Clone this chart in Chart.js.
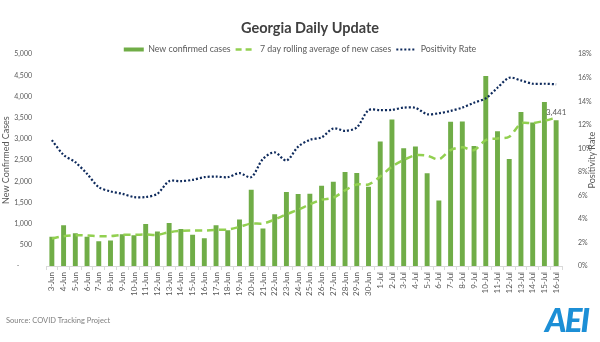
<!DOCTYPE html>
<html>
<head>
  <title>Georgia Daily Update</title>
  <style>
    body {
      margin: 0;
      background-color: #FFF;
      font-family: Lato, sans-serif;
    }

    #wrap {
      position: relative;
      width: 600px;
      height: 342px;
    }

    #source {
      position: absolute;
      left: 6px;
      top: 316px;
      font-size: 7.5px;
      color: #7F7F7F;
    }

    #logo {
      position: absolute;
      left: 545px;
      top: 299px;
      font: italic 900 33px Lato, sans-serif;
      color: #1C8FD6;
      letter-spacing: -2px;
    }
  </style>
</head>
<body>
  <div id="wrap">
    <canvas id="chart" width="600" height="342"></canvas>
    <div id="source">Source: COVID Tracking Project</div>
    <div id="logo">AEI</div>
  </div>

  <script src="https://cdn.jsdelivr.net/npm/chart.js"></script>

  <script>
    // Data
    var days = [
      '3-Jun', '4-Jun', '5-Jun', '6-Jun', '7-Jun', '8-Jun', '9-Jun', '10-Jun', '11-Jun', '12-Jun',
      '13-Jun', '14-Jun', '15-Jun', '16-Jun', '17-Jun', '18-Jun', '19-Jun', '20-Jun', '21-Jun', '22-Jun',
      '23-Jun', '24-Jun', '25-Jun', '26-Jun', '27-Jun', '28-Jun', '29-Jun', '30-Jun',
      '1-Jul', '2-Jul', '3-Jul', '4-Jul', '5-Jul', '6-Jul', '7-Jul', '8-Jul', '9-Jul', '10-Jul',
      '11-Jul', '12-Jul', '13-Jul', '14-Jul', '15-Jul', '16-Jul'
    ];

    var newCases = [
      688, 962, 774, 688, 587, 602, 751, 727, 994, 813,
      1017, 876, 735, 657, 962, 845, 1096, 1800, 885, 1220,
      1745, 1697, 1705, 1893, 1987, 2222, 2198, 1870,
      2942, 3458, 2777, 2824, 2190, 1549, 3403, 3411, 2832, 4483,
      3184, 2527, 3638, 3387, 3873, 3441
    ];

    var rollingAvg = [
      650, 704, 727, 720, 704, 704, 735, 735, 743, 735,
      798, 829, 837, 837, 853, 860, 923, 1002, 1002, 1096,
      1220, 1330, 1455, 1565, 1612, 1784, 1925, 1925,
      2112, 2347, 2504, 2613, 2605, 2519, 2738, 2801, 2738, 2973,
      3012, 3051, 3364, 3372, 3427, 3505
    ];

    var positivity = [
      10.7, 9.44, 8.82, 7.83, 6.70, 6.34, 6.14, 5.86, 5.86, 6.14,
      7.21, 7.21, 7.32, 7.55, 7.6, 7.55, 7.89, 7.55, 9.10, 9.66,
      8.96, 10.14, 10.73, 10.93, 11.69, 11.49, 11.77, 13.24,
      13.24, 13.27, 13.46, 13.44, 12.9, 12.98, 13.18, 13.46, 13.88, 14.25,
      15.15, 16.0, 15.77, 15.49, 15.49, 15.44
    ];

    // legend swatch styles, by dataset index
    var legendColors = ['#70AD47', '#92D050', '#0E2A5C'];
    var legendDashes = [[], [6, 4], [2, 2]];
    var legendWidths = [4, 2.5, 2];

    var tickColor = '#595959';
    var titleText = 'Georgia Daily Update';

    // Title, label above the last bar, right axis title (reads bottom to top like Excel)
    var extras = {
      id: 'extras',
      beforeInit: function(chart) {
        var legend = chart.legend;
        // shrink the legend box so the plot starts right under it
        var fit = legend.fit;
        legend.fit = function() {
          fit.call(this);
          this.height -= 9.7;
        };
        // draw without clipping to the (shrunk) box
        legend.draw = function() {
          if (this.options.display) {
            this._draw();
          }
        };
      },
      afterDraw: function(chart) {
        var ctx = chart.ctx;
        var meta = chart.getDatasetMeta(0);
        var bar = meta.data[meta.data.length - 1];
        var area = chart.chartArea;
        ctx.save();
        ctx.textAlign = 'center';
        ctx.textBaseline = 'middle';

        ctx.font = 'bold 14.5px Lato';
        ctx.fillStyle = '#404040';
        ctx.fillText(titleText, 310, 28);

        ctx.font = '8px Lato';
        ctx.fillStyle = tickColor;
        ctx.fillText(newCases[newCases.length - 1].toLocaleString('en-US'), bar.x, bar.y - 8);

        ctx.translate(592, (area.top + area.bottom) / 2);
        ctx.rotate(-Math.PI / 2);
        ctx.font = '9px Lato';
        ctx.fillText('Positivity Rate', 0, 0);
        ctx.restore();
      }
    };

    var chartElement = document.getElementById('chart').getContext('2d');
    window.myChart = new Chart(chartElement, {
      type: 'bar',
      data: {
        labels: days,
        datasets: [
          {
            type: 'bar',
            label: 'New confirmed cases',
            data: newCases,
            backgroundColor: '#70AD47',
            categoryPercentage: 1,
            barPercentage: 0.42,
            yAxisID: 'y',
            order: 3
          },
          {
            type: 'line',
            label: '7 day rolling average of new cases',
            data: rollingAvg,
            borderColor: '#92D050',
            borderWidth: 2.5,
            borderDash: [7, 5],
            pointRadius: 0,
            tension: 0.3,
            yAxisID: 'y',
            order: 2
          },
          {
            type: 'line',
            label: 'Positivity Rate',
            data: positivity,
            borderColor: '#0E2A5C',
            borderWidth: 2.2,
            borderDash: [2, 2],
            pointRadius: 0,
            tension: 0.3,
            yAxisID: 'y1',
            order: 1
          }
        ]
      },
      options: {
        responsive: false,
        animation: false,
        layout: { padding: 0 },
        plugins: {
          // drawn by the extras plugin, kept here for the spacing
          title: {
            display: true,
            text: titleText,
            color: 'rgba(0,0,0,0)',
            font: { family: 'Lato', size: 14.5, weight: 'bold' },
            padding: { top: 19, bottom: 3.7 }
          },
          legend: {
            display: true,
            labels: {
              usePointStyle: true,
              pointStyleWidth: 20,
              boxHeight: 8,
              padding: 5,
              color: tickColor,
              font: { family: 'Lato', size: 8.8 },
              generateLabels: function(chart) {
                var items = Chart.defaults.plugins.legend.labels.generateLabels(chart);
                items.sort(function(a, b) { return a.datasetIndex - b.datasetIndex; });
                items.forEach(function(item) {
                  var i = item.datasetIndex;
                  item.pointStyle = 'line';
                  item.strokeStyle = legendColors[i];
                  item.lineDash = legendDashes[i];
                  item.lineWidth = legendWidths[i];
                  item.fontColor = tickColor;
                });
                return items;
              }
            }
          },
          tooltip: { enabled: false }
        },
        scales: {
          x: {
            grid: { display: true, drawOnChartArea: false, offset: true, tickLength: 4, color: '#D9D9D9' },
            border: { color: '#D9D9D9' },
            ticks: {
              autoSkip: false,
              minRotation: 90,
              maxRotation: 90,
              padding: 2,
              color: tickColor,
              font: { family: 'Lato', size: 8 }
            },
            afterFit: function(scale) { scale.height = 76; }
          },
          y: {
            position: 'left',
            min: 0,
            max: 5000,
            grid: { display: false },
            border: { display: false },
            ticks: {
              stepSize: 500,
              padding: 6,
              color: tickColor,
              font: { family: 'Lato', size: 7 },
              callback: function(v) { return v === 0 ? '-       ' : v.toLocaleString('en-US'); }
            },
            title: {
              display: true,
              text: 'New Confirmed Cases',
              color: tickColor,
              font: { family: 'Lato', size: 9 },
              padding: { top: 1, bottom: 0 }
            },
            afterFit: function(scale) { scale.width = 46; }
          },
          y1: {
            position: 'right',
            min: 0,
            max: 18,
            grid: { display: false },
            border: { display: false },
            ticks: {
              stepSize: 2,
              padding: 8,
              color: tickColor,
              font: { family: 'Lato', size: 7 },
              callback: function(v) { return v + '%'; }
            },
            afterFit: function(scale) { scale.width = 38; }
          }
        }
      },
      plugins: [extras]
    });
  </script>
</body>
</html>
